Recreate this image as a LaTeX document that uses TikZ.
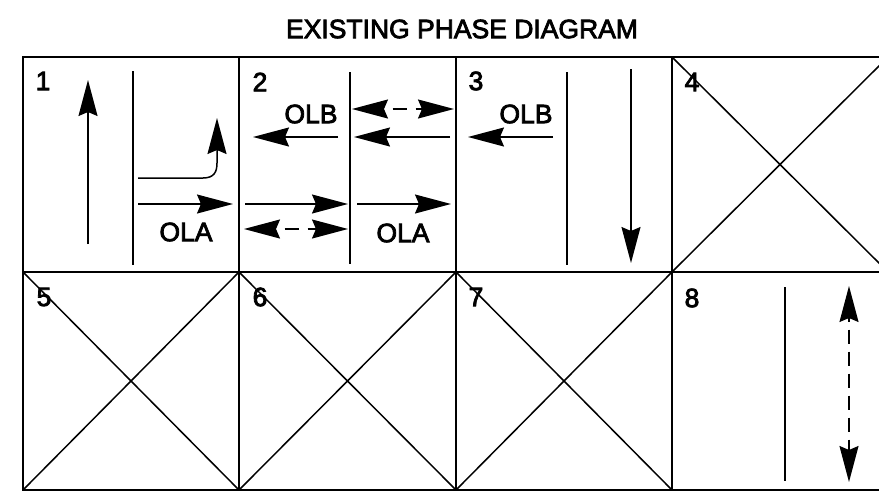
\documentclass[tikz,border=0pt]{standalone}
\usepackage{fontspec}
\setmainfont{Liberation Sans}
\newfontfamily\scanfont{Liberation Sans}[FakeBold=3]
\usepackage{tikz}
\usetikzlibrary{positioning, arrows, arrows.meta}

\tikzset{
  grid/.style={line width=1.7pt},
  lane/.style={line width=1.5pt},
  mv/.style={line width=1.5pt, -{Stealth[length=36pt, width=19pt, inset=4pt]}},
  mvboth/.style={line width=1.5pt, {Stealth[length=36pt, width=19pt, inset=4pt]}-{Stealth[length=36pt, width=19pt, inset=4pt]}},
  dashmv/.style={mvboth, dash pattern=on 14pt off 9pt, dash phase=14pt},
  lbl/.style={font=\scanfont\fontsize{26.5}{30}\selectfont, inner sep=0pt},
}

\begin{document}
\begin{tikzpicture}[x=1pt, y=-1pt]
\useasboundingbox (0,0) rectangle (879,493);
\clip (0,0) rectangle (879,493);

% Title
\node[lbl] (title) at (462,29) {EXISTING PHASE DIAGRAM};

% Grid of phases
\draw[grid] (23,57) rectangle (888,490);
\draw[grid] (23,272) -- (888,272);
\draw[grid] (239,57) -- (239,490);
\draw[grid] (456,57) -- (456,490);
\draw[grid] (672,57) -- (672,490);

% Unused phases
\draw[lane] (672,57) -- (888,272) (672,272) -- (888,57);
\draw[lane] (23,272) -- (239,490) (23,490) -- (239,272);
\draw[lane] (239,272) -- (456,490) (239,490) -- (456,272);
\draw[lane] (456,272) -- (672,490) (456,490) -- (672,272);

% Phase numbers
\node[lbl] (n1) at (43,81) {1};
\node[lbl] (n2) at (260,82) {2};
\node[lbl] (n3) at (476,81) {3};
\node[lbl] (n4) at (692,82) {4};
\node[lbl] (n5) at (44,297) {5};
\node[lbl] (n6) at (260,297) {6};
\node[lbl] (n7) at (476,297) {7};
\node[lbl] (n8) at (692,298) {8};

% Phase 1
\draw[lane] (133,71) -- (133,265);
\draw[mv] (88,244) -- (88,80);
\draw[mv] (138,178) -- (203,178) .. controls (214,178) and (217,172) .. (217,163) -- (217,118);
\draw[mv] (138,204) -- (233,204);
\node[lbl] (ola1) at (186,232) {OLA};

% Phase 2
\draw[lane] (350,72) -- (350,264);
\node[lbl] (olb2) at (311,114) {OLB};
\draw[mv] (338,137) -- (253,137);
\draw[dashmv] (352,109) -- (454,109);
\draw[mv] (450,137) -- (354,137);
\draw[mv] (245,204) -- (348,204);
\draw[mv] (357,204) -- (451,204);
\draw[dashmv] (244,229) -- (348,229);
\node[lbl] (ola2) at (403,233) {OLA};

% Phase 3
\draw[lane] (567,72) -- (567,265);
\node[lbl] (olb3) at (526,114) {OLB};
\draw[mv] (553,137) -- (468,137);
\draw[mv] (631,69) -- (631,263);

% Phase 8
\draw[lane] (785,287) -- (785,481);
\draw[dashmv, dash pattern=on 14pt off 8pt, dash phase=10pt] (849,286) -- (849,482);
\end{tikzpicture}
\end{document}
